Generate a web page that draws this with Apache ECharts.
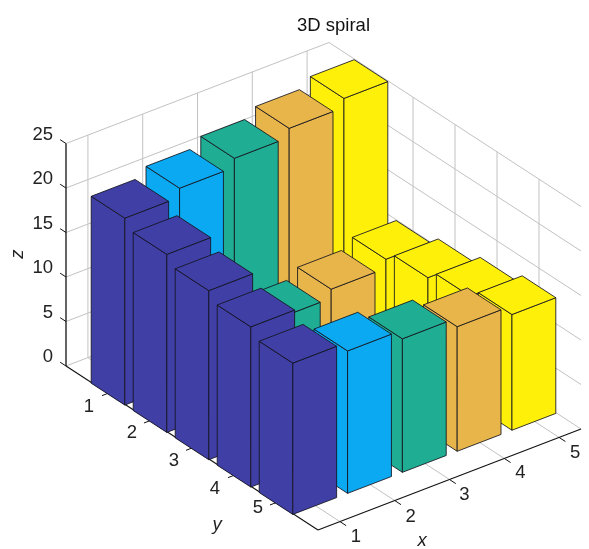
<!DOCTYPE html>
<html>
<head>
<meta charset="utf-8">
<script src="https://cdn.jsdelivr.net/npm/echarts@6/dist/echarts.min.js"></script>
<style>html,body{margin:0;padding:0;background:#fff}#c{width:589px;height:549px}</style>
</head>
<body>
<div id="c"></div>
<script>
// ---- data ----
const titleText = '3D spiral';
const xTicks = [1, 2, 3, 4, 5];
const yTicks = [1, 2, 3, 4, 5];
const zTicks = [0, 5, 10, 15, 20, 25];
const rowY1 = [21, 22, 23, 24, 25];
const rowY2 = [20, 7, 8, 9, 10];
const rowY3 = [19, 6, 1, 2, 11];
const rowY4 = [18, 5, 4, 3, 12];
const rowY5 = [17, 16, 15, 14, 13];
const rows = [rowY1, rowY2, rowY3, rowY4, rowY5];
const columnColors = ['#3F3FA6', '#0AA9F1', '#1FAE93', '#E8B54A', '#FFF00A'];

// ---- view ----
const xLim = [0.6, 5.4], yLim = [0, 6], zLim = [0, 25];
const barHalf = 0.4;
const leftCorner = [66, 366];
const xRun = [263, -101];   // screen run of the whole x axis
const yRun = [252, 164];    // screen run of the whole y axis
const zRise = 222.5;        // screen rise of the whole z axis
const barDrop = 0.8;        // bars sit a hair lower than the frame on screen

// back-to-front painting order
const barData = [];
yTicks.forEach((y, j) => {
  for (let i = xTicks.length - 1; i >= 0; i--) barData.push([xTicks[i], y, rows[j][i]]);
});

// x and z go through the grid's own axes; the y axis and the x slope are added as a shear
function project(api, x, y, z) {
  const p = api.coord([x, z]);
  const tx = (x - xLim[0]) / (xLim[1] - xLim[0]);
  const ty = (y - yLim[0]) / (yLim[1] - yLim[0]);
  return [p[0] + ty * yRun[0], p[1] + tx * xRun[1] + ty * yRun[1]];
}

function face(points, color) {
  return {
    type: 'polygon',
    shape: { points: points },
    style: { fill: color, stroke: 'rgba(20,20,30,0.85)', lineWidth: 1, lineJoin: 'round' }
  };
}
function seg(a, b, color, w) {
  return {
    type: 'line',
    shape: { x1: a[0], y1: a[1], x2: b[0], y2: b[1] },
    style: { stroke: color, lineWidth: w, fill: null }
  };
}
function label(p, text, opt) {
  opt = opt || {};
  return {
    type: 'text',
    x: p[0], y: p[1],
    rotation: opt.rotation || 0,
    style: {
      text: String(text),
      x: 0, y: 0,
      fill: '#222222',
      font: (opt.italic ? 'italic ' : '') + '18.5px "Liberation Sans", Arial, sans-serif',
      align: opt.align || 'center', verticalAlign: 'middle'
    }
  };
}

const GRID = '#c2c2c2', AXIS = '#111111';

function renderGridLines(params, api) {
  const c = [];
  const P = (x, y, z) => project(api, x, y, z);
  zTicks.forEach(z => {
    c.push(seg(P(xLim[0], yLim[0], z), P(xLim[1], yLim[0], z), GRID, 1));
    c.push(seg(P(xLim[1], yLim[0], z), P(xLim[1], yLim[1], z), GRID, 1));
  });
  xTicks.forEach(x => {
    c.push(seg(P(x, yLim[0], zLim[0]), P(x, yLim[0], zLim[1]), GRID, 1));
    c.push(seg(P(x, yLim[0], 0), P(x, yLim[1], 0), GRID, 1));
  });
  yTicks.forEach(y => {
    c.push(seg(P(xLim[1], y, zLim[0]), P(xLim[1], y, zLim[1]), GRID, 1));
    c.push(seg(P(xLim[0], y, 0), P(xLim[1], y, 0), GRID, 1));
  });
  return { type: 'group', children: c };
}

function renderBar(params, api) {
  const x = api.value(0), y = api.value(1), z = api.value(2);
  const x0 = x - barHalf, x1 = x + barHalf, y0 = y - barHalf, y1 = y + barHalf;
  const P = (a, b, c) => { const p = project(api, a, b, c); return [p[0], p[1] + barDrop]; };
  const color = columnColors[xTicks.indexOf(x)];
  return {
    type: 'group',
    children: [
      face([P(x0, y0, 0), P(x0, y1, 0), P(x0, y1, z), P(x0, y0, z)], color),
      face([P(x0, y1, 0), P(x1, y1, 0), P(x1, y1, z), P(x0, y1, z)], color),
      face([P(x0, y0, z), P(x0, y1, z), P(x1, y1, z), P(x1, y0, z)], color)
    ]
  };
}

// label nudges in pixels, relative to the tick position on the axis
const yLabelNudge = [[-19, 14], [-18, 12], [-18, 13], [-19, 14], [-18, 5]];
const xLabelNudge = [[16, 15.5], [16, 16], [15, 15.5], [16, 14], [16, 15.5]];
const zLabelPad = [-13, -9];

function renderAxes(params, api) {
  const c = [];
  const P = (x, y, z) => project(api, x, y, z);
  const xLo = xLim[0], xHi = xLim[1], yLo = yLim[0], yHi = yLim[1];
  c.push(seg(P(xLo, yLo, 0), P(xLo, yHi, 0), AXIS, 1.1));
  c.push(seg(P(xLo, yHi, 0), P(xHi, yHi, 0), AXIS, 1.1));
  c.push(seg(P(xLo, yLo, 0), P(xLo, yLo, zLim[1]), AXIS, 1.3));
  zTicks.forEach(z => {
    const a = P(xLo, yLo, z);
    c.push(seg(a, P(xLo, yLo - 0.14, z), AXIS, 1));
    c.push(label([a[0] + zLabelPad[0], a[1] + zLabelPad[1]], z, { align: 'right' }));
  });
  yTicks.forEach((y, i) => {
    const a = P(xLo, y, 0);
    c.push(seg(a, P(xLo - 0.11, y, 0), AXIS, 1));
    c.push(label([a[0] + yLabelNudge[i][0], a[1] + yLabelNudge[i][1]], y));
  });
  xTicks.forEach((x, i) => {
    const a = P(x, yHi, 0);
    c.push(seg(a, P(x, yHi + 0.15, 0), AXIS, 1));
    c.push(label([a[0] + xLabelNudge[i][0], a[1] + xLabelNudge[i][1]], x));
  });
  c.push(label([422, 541], 'x', { italic: true }));
  c.push(label([217, 525], 'y', { italic: true }));
  c.push(label([18, 254], 'z', { italic: true, rotation: Math.PI / 2 }));
  return { type: 'group', children: c };
}

const chart = echarts.init(document.getElementById('c'), null, { renderer: 'canvas' });
chart.setOption({
  animation: false,
  backgroundColor: '#ffffff',
  title: {
    text: titleText,
    left: 328.5, top: 11, textAlign: 'center',
    textStyle: { fontFamily: '"Liberation Sans", Arial, sans-serif', fontSize: 18.5, fontWeight: 'normal', color: '#111111' }
  },
  grid: { left: leftCorner[0], top: leftCorner[1] - zRise, width: xRun[0], height: zRise, containLabel: false },
  xAxis: { type: 'value', min: xLim[0], max: xLim[1], show: false },
  yAxis: { type: 'value', min: zLim[0], max: zLim[1], interval: 5, show: false },
  series: [
    { type: 'custom', name: 'grid', coordinateSystem: 'cartesian2d', clip: false, silent: true, z: 1, data: [[1, 0]], encode: { x: 0, y: 1 }, renderItem: renderGridLines },
    { type: 'custom', name: 'axes', coordinateSystem: 'cartesian2d', clip: false, silent: true, z: 2, data: [[1, 0]], encode: { x: 0, y: 1 }, renderItem: renderAxes },
    { type: 'custom', name: 'bars', coordinateSystem: 'cartesian2d', clip: false, z: 3, data: barData, encode: { x: 0, y: 2 }, renderItem: renderBar }
  ]
});
</script>
</body>
</html>
